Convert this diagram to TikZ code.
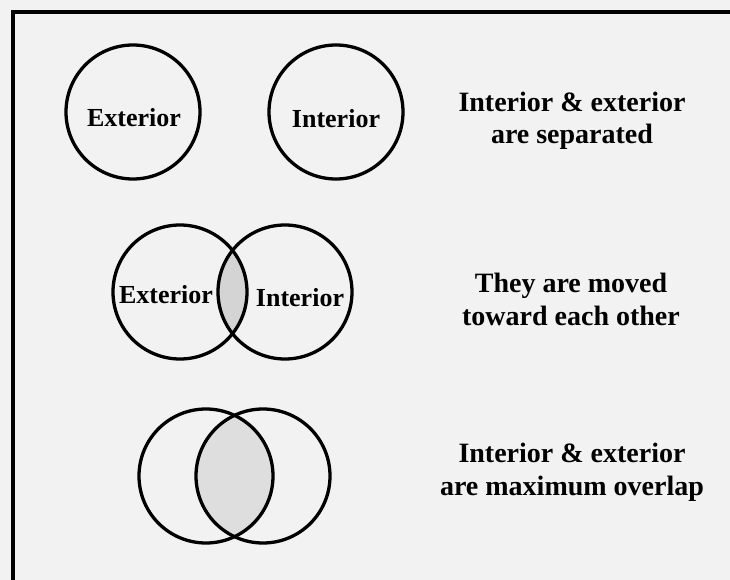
\documentclass[tikz,border=0pt]{standalone}
\usepackage{fontspec}
\setmainfont{Liberation Serif}
\definecolor{bgc}{HTML}{F2F2F2}
\definecolor{lensA}{HTML}{D4D4D4}
\definecolor{lensB}{HTML}{DEDEDE}
\begin{document}
\begin{tikzpicture}[x=1pt,y=-1pt,
  ring/.style={draw=black,line width=3.3pt,circle,minimum size=134pt,inner sep=0pt},
  clabel/.style={font=\bfseries\fontsize{26}{30}\selectfont,anchor=base,inner sep=0pt},
  desc/.style={font=\bfseries\fontsize{28}{32.5}\selectfont,align=center,anchor=base,inner sep=0pt}]
\useasboundingbox (0,0) rectangle (730,580);
\fill[bgc] (0,0) rectangle (730,580);
\begin{scope}
\clip (0,0) rectangle (730,580);
\draw[line width=3.4pt] (13,12) rectangle (760,610);
\end{scope}
% row 1
\node[ring] (e1) at (133,112) {};
\node[ring] (i1) at (336,112) {};
\node[clabel] (le1) at (134,127) {Exterior};
\node[clabel] (li1) at (336,128) {Interior};
\node[desc] (d1) at (572,144) {Interior \& exterior\\are separated};
% row 2
\begin{scope}
\clip (180,292) circle (67);
\fill[lensA] (285,292) circle (67);
\end{scope}
\node[ring] (e2) at (180,292) {};
\node[ring] (i2) at (285,292) {};
\node[clabel] (le2) at (166,303) {Exterior};
\node[clabel] (li2) at (300,306) {Interior};
\node[desc] (d2) at (571,325) {They are moved\\toward each other};
% row 3
\begin{scope}
\clip (206,476) circle (67);
\fill[lensB] (263,476) circle (67);
\end{scope}
\node[ring] (e3) at (206,476) {};
\node[ring] (i3) at (263,476) {};
\node[desc] (d3) at (572,495) {Interior \& exterior\\are maximum overlap};
\end{tikzpicture}
\end{document}
